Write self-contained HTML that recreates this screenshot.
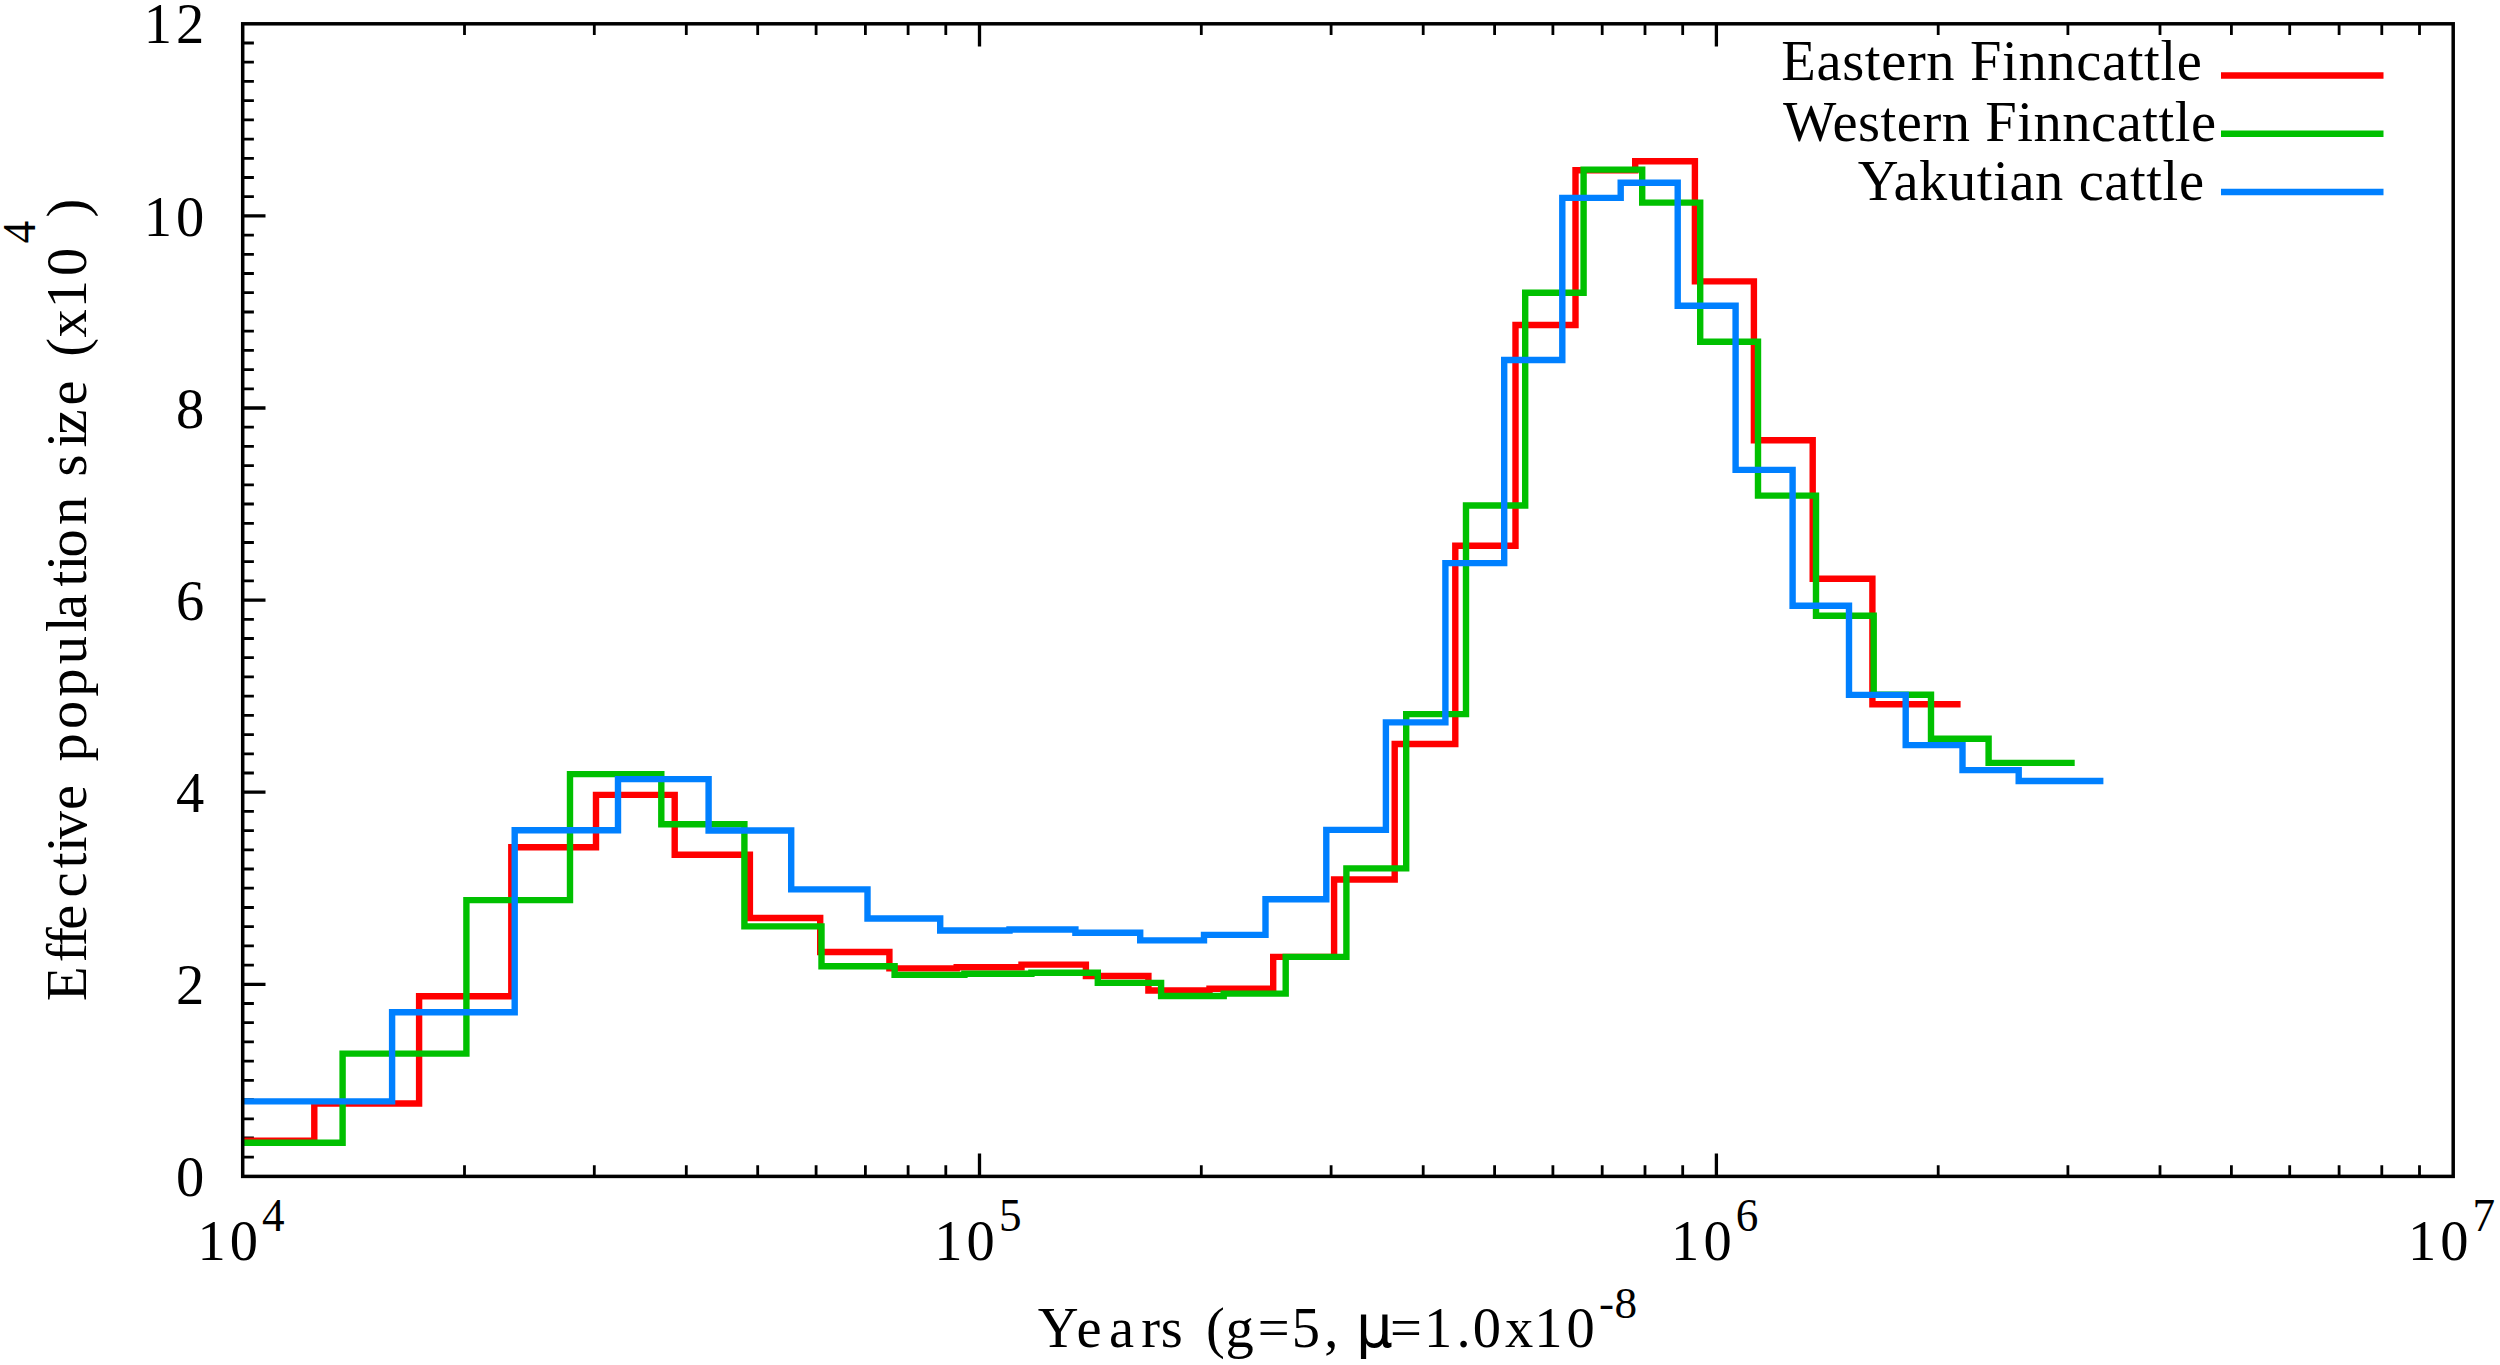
<!DOCTYPE html>
<html lang="en"><head><meta charset="utf-8"><title>PSMC effective population size</title>
<style>html,body{margin:0;padding:0;background:#fff}svg{display:block}text{font-family:"Liberation Serif",serif;fill:#000;font-kerning:normal}.mu{font-family:"DejaVu Sans",sans-serif}</style></head>
<body>
<svg width="2500" height="1365" viewBox="0 0 2500 1365">
<rect width="2500" height="1365" fill="#fff"/>
<path d="M242.7,1157.2h11.2M242.7,1138.0h11.2M242.7,1118.8h11.2M242.7,1099.6h11.2M242.7,1080.4h11.2M242.7,1061.1h11.2M242.7,1041.9h11.2M242.7,1022.7h11.2M242.7,1003.5h11.2M242.7,965.1h11.2M242.7,945.9h11.2M242.7,926.7h11.2M242.7,907.5h11.2M242.7,888.2h11.2M242.7,869.0h11.2M242.7,849.8h11.2M242.7,830.6h11.2M242.7,811.4h11.2M242.7,773.0h11.2M242.7,753.8h11.2M242.7,734.6h11.2M242.7,715.4h11.2M242.7,696.2h11.2M242.7,676.9h11.2M242.7,657.7h11.2M242.7,638.5h11.2M242.7,619.3h11.2M242.7,580.9h11.2M242.7,561.7h11.2M242.7,542.5h11.2M242.7,523.3h11.2M242.7,504.0h11.2M242.7,484.8h11.2M242.7,465.6h11.2M242.7,446.4h11.2M242.7,427.2h11.2M242.7,388.8h11.2M242.7,369.6h11.2M242.7,350.4h11.2M242.7,331.2h11.2M242.7,312.0h11.2M242.7,292.7h11.2M242.7,273.5h11.2M242.7,254.3h11.2M242.7,235.1h11.2M242.7,196.7h11.2M242.7,177.5h11.2M242.7,158.3h11.2M242.7,139.1h11.2M242.7,119.8h11.2M242.7,100.6h11.2M242.7,81.4h11.2M242.7,62.2h11.2M242.7,43.0h11.2M464.5,1176.4v-11.2M464.5,23.8v11.2M594.3,1176.4v-11.2M594.3,23.8v11.2M686.3,1176.4v-11.2M686.3,23.8v11.2M757.7,1176.4v-11.2M757.7,23.8v11.2M816.1,1176.4v-11.2M816.1,23.8v11.2M865.4,1176.4v-11.2M865.4,23.8v11.2M908.1,1176.4v-11.2M908.1,23.8v11.2M945.8,1176.4v-11.2M945.8,23.8v11.2M1201.3,1176.4v-11.2M1201.3,23.8v11.2M1331.1,1176.4v-11.2M1331.1,23.8v11.2M1423.2,1176.4v-11.2M1423.2,23.8v11.2M1494.6,1176.4v-11.2M1494.6,23.8v11.2M1552.9,1176.4v-11.2M1552.9,23.8v11.2M1602.2,1176.4v-11.2M1602.2,23.8v11.2M1645.0,1176.4v-11.2M1645.0,23.8v11.2M1682.7,1176.4v-11.2M1682.7,23.8v11.2M1938.2,1176.4v-11.2M1938.2,23.8v11.2M2067.9,1176.4v-11.2M2067.9,23.8v11.2M2160.0,1176.4v-11.2M2160.0,23.8v11.2M2231.4,1176.4v-11.2M2231.4,23.8v11.2M2289.7,1176.4v-11.2M2289.7,23.8v11.2M2339.1,1176.4v-11.2M2339.1,23.8v11.2M2381.8,1176.4v-11.2M2381.8,23.8v11.2M2419.5,1176.4v-11.2M2419.5,23.8v11.2" stroke="#000" stroke-width="2.8" fill="none"/>
<path d="M242.7,984.3h22.8M242.7,792.2h22.8M242.7,600.1h22.8M242.7,408.0h22.8M242.7,215.9h22.8M979.5,1176.4v-22.8M979.5,23.8v22.8M1716.4,1176.4v-22.8M1716.4,23.8v22.8" stroke="#000" stroke-width="3.3" fill="none"/>
<g fill="none" stroke-width="6.4" stroke-linejoin="miter" stroke-linecap="butt">
<path d="M242.5,1140.8 H314.3 V1103.5 H419.1 V996.3 H511.3 V847.3 H596.0 V794.9 H674.7 V854.7 H749.9 V918.0 H820.2 V952.0 H889.4 V968.4 H956.7 V967.3 H1021.5 V964.6 H1085.9 V976.0 H1148.4 V990.5 H1209.5 V988.8 H1273.2 V956.9 H1334.1 V879.5 H1394.7 V744.0 H1455.3 V545.7 H1515.5 V325.0 H1575.5 V170.3 H1635.2 V161.3 H1694.9 V281.4 H1753.9 V440.2 H1812.7 V578.7 H1872.4 V704.2 H1960.6" stroke="#ff0000"/>
<path d="M242.5,1142.7 H342.6 V1053.6 H466.4 V900.1 H570.0 V774.1 H661.3 V824.2 H744.4 V926.4 H821.5 V966.3 H894.6 V974.9 H964.4 V973.8 H1031.4 V972.7 H1097.8 V982.9 H1161.1 V996.0 H1223.7 V993.6 H1285.7 V956.9 H1346.4 V868.4 H1406.2 V714.1 H1466.0 V505.5 H1525.2 V292.7 H1583.6 V169.6 H1642.2 V202.6 H1700.2 V341.8 H1758.0 V495.6 H1816.0 V615.8 H1873.7 V694.7 H1931.0 V738.7 H1988.6 V762.9 H2074.7" stroke="#00c000"/>
<path d="M242.5,1101.4 H392.1 V1012.2 H514.7 V830.2 H618.0 V779.1 H708.6 V830.5 H791.2 V889.4 H867.5 V918.5 H940.2 V930.5 H1009.5 V929.5 H1075.4 V932.7 H1140.2 V940.4 H1204.0 V934.9 H1265.5 V899.3 H1326.3 V829.9 H1385.9 V722.4 H1445.4 V563.1 H1504.2 V360.0 H1562.3 V197.9 H1620.7 V182.8 H1677.7 V305.8 H1735.6 V469.9 H1792.6 V605.7 H1849.0 V694.9 H1905.7 V745.1 H1962.5 V770.1 H2018.7 V781.0 H2103.4" stroke="#0080ff"/>
<path d="M2221,75.5H2383.5" stroke="#ff0000"/>
<path d="M2221,133.8H2383.5" stroke="#00c000"/>
<path d="M2221,192H2383.5" stroke="#0080ff"/>
</g>
<rect x="242.7" y="23.8" width="2210.5" height="1152.6" fill="none" stroke="#000" stroke-width="3.5"/>
<text x="176.1" y="1196.0" font-size="56.5">0</text>
<text x="176.1" y="1003.9" font-size="56.5">2</text>
<text x="176.1" y="811.8" font-size="56.5">4</text>
<text x="176.1" y="619.7" font-size="56.5">6</text>
<text x="176.1" y="427.6" font-size="56.5">8</text>
<text x="143.7 176.1" y="235.5" font-size="56.5">10</text>
<text x="143.7 176.1" y="43.4" font-size="56.5">12</text>
<text y="1259.8" font-size="56.5" x="197.4 229.7">10</text><text transform="translate(262.1,1230.6) scale(1,1.03)" font-size="45.2">4</text>
<text y="1259.8" font-size="56.5" x="934.2 966.6">10</text><text transform="translate(999.0,1230.6) scale(1,1.03)" font-size="45.2">5</text>
<text y="1259.8" font-size="56.5" x="1671.0 1703.4">10</text><text transform="translate(1735.8,1230.6) scale(1,1.03)" font-size="45.2">6</text>
<text y="1259.8" font-size="56.5" x="2407.9 2440.2">10</text><text transform="translate(2472.6,1230.6) scale(1,1.03)" font-size="45.2">7</text>
<text x="1781.3" y="80.3" font-size="56.5" letter-spacing="0.65">Eastern Finncattle</text>
<text x="1783.1" y="141.4" font-size="56.5" letter-spacing="0.54">Western Finncattle</text>
<text x="1857.7" y="200.2" font-size="56.5" letter-spacing="0.6">Yakutian cattle</text>
<text y="1346.6" font-size="56.5"><tspan x="1037.7 1076.5 1108.9 1141.3 1160.7 1189.8 1206.0 1225.4 1257.8 1291.8 1324.2 1340.4">Years (g=5, </tspan><tspan class="mu" font-size="58" x="1356.0">μ</tspan><tspan x="1390.1 1424.1 1456.5 1472.7 1505.1 1534.2 1566.6">=1.0x10</tspan><tspan x="1599.0 1614.5" dy="-29" font-size="45.2">-8</tspan></text>
<g transform="translate(86.4,0) rotate(-90)"><text y="0" font-size="56.5" style="font-variant-ligatures:none"><tspan x="-1001.0 -962.2 -946.0 -929.8 -897.4 -868.3 -852.1 -839.2 -810.0 -777.6 -761.5 -729.1 -696.7 -664.3 -631.9 -619.0 -586.6 -570.4 -557.5 -525.1 -492.7 -476.5 -447.4 -434.5 -405.4 -373.0 -356.8 -337.4 -308.3 -275.9">Effective population size (x10</tspan></text><text transform="translate(-243.5,-51.8) scale(1,1.03)" font-size="45.2">4</text><text x="-217.6" y="0" font-size="56.5">)</text></g>
</svg></body></html>
